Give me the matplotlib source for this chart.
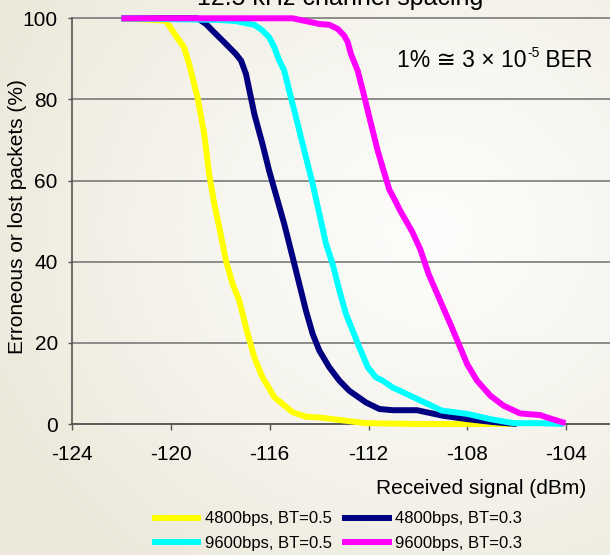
import numpy as np
import matplotlib
matplotlib.use("Agg")
import matplotlib.pyplot as plt

plt.rcParams['font.family'] = ['Liberation Sans', 'DejaVu Sans']

# ---------------- data ----------------
x_4800_05 = [-122.0, -120.2, -119.8, -119.46, -119.26, -118.92, -118.65, -118.45, -118.24, -118.04,
             -117.77, -117.5, -117.23, -116.96, -116.62, -116.29, -115.81, -115.07, -114.53, -113.99,
             -113.18, -112.1, -110.0, -108.0, -106.0]
y_4800_05 = [100, 99.4, 95.7, 92.8, 88.7, 80.5, 71.5, 61.6, 54.2, 48.5,
             40.3, 34.5, 30.4, 23.8, 16.4, 11.5, 6.6, 2.9, 1.8, 1.6,
             1.0, 0.2, 0, 0, 0]

x_4800_03 = [-122.0, -118.92, -118.58, -118.24, -117.84, -117.37, -117.16, -116.96, -116.76, -116.62,
             -116.29, -116.02, -115.68, -115.41, -115.07, -114.8, -114.53, -114.26, -113.99, -113.59,
             -113.18, -112.78, -112.1, -111.56, -111.02, -110.04, -108.96, -108.0, -107.0, -106.0]
y_4800_03 = [100, 100, 98.6, 96.5, 94.1, 91.2, 89.6, 86.3, 80.5, 76.4,
             69.0, 62.4, 55.1, 49.3, 41.1, 34.5, 27.9, 22.2, 18.1, 14.0,
             10.7, 8.2, 5.3, 3.7, 3.4, 3.4, 2.0, 1.2, 0.5, 0]

x_9600_05 = [-122.0, -118.04, -117.37, -116.96, -116.62, -116.29, -116.02, -115.81, -115.61, -115.41,
             -115.21, -115.0, -114.8, -114.53, -114.26, -113.99, -113.72, -113.45, -113.18, -112.91,
             -112.64, -112.37, -112.03, -111.7, -111.43, -111.02, -110.04, -109.03, -108.01, -107.07,
             -106.13, -105.05, -104.1]
y_9600_05 = [100, 99.6, 99.3, 98.8, 98.4, 97.0, 95.3, 92.8, 89.6, 87.1,
             82.2, 77.2, 72.3, 65.7, 59.2, 51.8, 44.4, 39.4, 32.9, 27.1,
             23.0, 18.9, 14.0, 11.5, 10.7, 9.0, 6.2, 3.3, 2.5, 1.2,
             0.2, 0.2, 0]

x_9600_03 = [-122.0, -115.07, -114.53, -113.99, -113.59, -113.25, -112.98, -112.84, -112.71, -112.44,
             -112.23, -112.03, -111.83, -111.63, -111.43, -111.16, -110.95, -110.72, -110.24, -109.9,
             -109.57, -109.1, -108.69, -108.29, -108.01, -107.61, -107.07, -106.53, -105.86, -105.05,
             -104.77, -104.03]
y_9600_03 = [100, 100, 99.3, 98.6, 98.4, 97.4, 95.7, 94.1, 91.2, 87.1,
             82.2, 77.2, 72.3, 67.4, 63.3, 57.8, 55.4, 52.6, 47.5, 43.0,
             37.0, 30.4, 24.7, 18.9, 14.8, 10.7, 7.0, 4.5, 2.6, 2.2,
             1.6, 0.2]

series_labels = ["4800bps, BT=0.5", "4800bps, BT=0.3", "9600bps, BT=0.5", "9600bps, BT=0.3"]
series_colors = ["#FFFF00", "#000080", "#00FFFF", "#FF00FF"]

x_ticks = [-124, -120, -116, -112, -108, -104]
y_ticks = [0, 20, 40, 60, 80, 100]

title_text = "12.5 kHz channel spacing"
xlabel_text = "Received signal (dBm)"
ylabel_text = "Erroneous or lost packets (%)"
note_main = "1% \u2245 3 \u00d7 10"
note_sup = "-5"
note_tail = " BER"

# ---------------- figure ----------------
W, H = 610, 555
fig = plt.figure(figsize=(W / 100, H / 100), dpi=100)

# background gradient
bg = fig.add_axes([0, 0, 1, 1], zorder=-10)
yy, xx = np.mgrid[0:H, 0:W]
d = np.sqrt(((xx - 430) / 1.0) ** 2 + ((yy - 230) / 0.9) ** 2)
t = np.clip(d / 480.0, 0, 1) ** 1.3
c_in = np.array([252, 252, 250]) / 255.0
c_out = np.array([236, 232, 218]) / 255.0
img = c_in[None, None, :] * (1 - t[..., None]) + c_out[None, None, :] * t[..., None]
bg.imshow(img, aspect='auto', extent=[0, 1, 0, 1], origin='upper')
bg.axis('off')

ax_left = 72 / W
ax_right_px = 665
ax_bottom = (H - 424) / H
ax_top = (H - 18.3) / H
ax = fig.add_axes([ax_left, ax_bottom, (ax_right_px - 72) / W, ax_top - ax_bottom])
ax.set_facecolor('none')

xs = [x_4800_05, x_4800_03, x_9600_05, x_9600_03]
ys = [y_4800_05, y_4800_03, y_9600_05, y_9600_03]
handles = []
for xv, yv, col, lab in zip(xs, ys, series_colors, series_labels):
    h, = ax.plot(xv, yv, color=col, lw=4.3, label=lab, clip_on=False,
                 solid_joinstyle='round', solid_capstyle='butt', zorder=3)
    handles.append(h)

ax.set_xlim(-124, -100)
ax.set_ylim(0, 100)
ax.set_xticks(x_ticks)
ax.set_xticklabels([str(v) for v in x_ticks])
ax.set_yticks(y_ticks)
ax.set_yticklabels([str(v) for v in y_ticks])
ax.tick_params(axis='x', direction='out', length=4.3, width=1.0, color='#555555',
               labelsize=15, pad=11)
ax.tick_params(axis='y', direction='out', length=3.2, width=1.0, color='#555555',
               labelsize=15, pad=7)

ax.yaxis.grid(True, color='#7a7a7a', lw=1.2)
for gl in ax.get_ygridlines():
    gl.set_clip_on(False)
ax.set_axisbelow(True)
for s in ['top', 'right']:
    ax.spines[s].set_visible(False)
ax.spines['left'].set_color('#555555')
ax.spines['left'].set_linewidth(1.2)
ax.spines['bottom'].set_color('#555555')
ax.spines['bottom'].set_linewidth(1.2)

# texts
fig.text(340 / W, 1 - 5 / H, title_text, fontsize=18, ha='center', va='baseline')
fig.text(586 / W, 1 - 489 / H, xlabel_text, fontsize=15, ha='right', va='center')
fig.text(17.5 / W, 1 - 216.5 / H, ylabel_text, fontsize=15, ha='center', va='center',
         rotation=90)

# annotation with superscript, composed from pieces
r = fig.canvas.get_renderer()
t1 = fig.text(397 / W, 1 - 67 / H, note_main, fontsize=16.5, ha='left', va='baseline')
bb1 = t1.get_window_extent(r)
t2 = fig.text((bb1.x1 + 0.5) / W, 1 - 57 / H, note_sup, fontsize=10, ha='left', va='baseline')
bb2 = t2.get_window_extent(r)
fig.text(bb2.x1 / W, 1 - 67 / H, note_tail, fontsize=16.5, ha='left', va='baseline')

order = [0, 2, 1, 3]
fig.legend([handles[i] for i in order], [series_labels[i] for i in order],
           ncol=2, loc='center', bbox_to_anchor=(337 / W, 1 - 531 / H),
           frameon=False, fontsize=12, handlelength=2.95, handletextpad=0.2,
           columnspacing=0.65, labelspacing=0.55, borderpad=0, borderaxespad=0)

fig.savefig("out.png", dpi=100)
